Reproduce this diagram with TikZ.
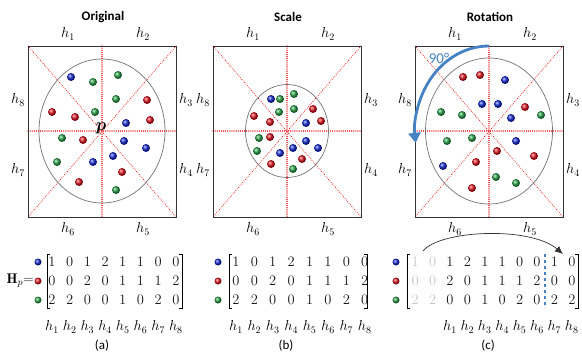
\documentclass[tikz,border=0pt]{standalone}
\usepackage{amsmath,amssymb,bm}
\usepackage{fontspec}
\newfontfamily\titlefont{Carlito}
\usetikzlibrary{arrows.meta,calc}

\definecolor{dotblue}{RGB}{20,40,210}
\definecolor{dotred}{RGB}{225,20,30}
\definecolor{dotgreen}{RGB}{40,160,70}
\definecolor{rotblue}{RGB}{70,130,195}
\definecolor{cutred}{RGB}{240,40,40}

\tikzset{
  frame/.style={draw=black!80,line width=0.9pt},
  cut/.style={draw=cutred,line cap=round,dash pattern=on 0.1pt off 2pt,line width=1.1pt},
  ring/.style={draw=black!55,line width=0.7pt},
  ball/.style={circle,inner sep=0pt,minimum size=8pt,shading=ball},
  bdot/.style={ball,ball color=dotblue},
  rdot/.style={ball,ball color=dotred},
  gdot/.style={ball,ball color=dotgreen},
  sdot/.style={circle,inner sep=0pt,minimum size=7pt,shading=ball},
  hlab/.style={inner sep=0pt,font=\fontsize{14}{16}\selectfont},
  num/.style={inner sep=0pt,font=\fontsize{14.5}{16}\selectfont,text=black!90},
  ttl/.style={inner sep=0pt,font=\titlefont\bfseries\fontsize{13}{15}\selectfont},
  sublab/.style={inner sep=0pt,font=\titlefont\fontsize{13}{15}\selectfont}
}

\begin{document}
\begin{tikzpicture}[x=1pt,y=-1pt]
\useasboundingbox (0,0) rectangle (582,353);

% frames, cut lines and labels of the three panels
\foreach \p/\x/\t in {a/28/Original,b/213/Scale,c/415/Rotation}{
  \draw[cut] (\x,46) -- ++(148,171);
  \draw[cut] (\x+148,46) -- ++(-148,171);
  \draw[cut] (\x+74,46) -- ++(0,171);
  \draw[cut] (\x,131) -- ++(148,0);
  \draw[frame] (\x,46) rectangle ++(148,171);
  \node[ttl] (\p-title) at (\x+75,17) {\t};
  \node[hlab] (\p-h1) at (\x+40,34) {$h_1$};
  \node[hlab] (\p-h2) at (\x+115,34) {$h_2$};
  \node[hlab] (\p-h8) at (\x-10,100) {$h_8$};
  \node[hlab] (\p-h3) at (\x+158,100) {$h_3$};
  \node[hlab] (\p-h7) at (\x-10,170) {$h_7$};
  \node[hlab] (\p-h4) at (\x+158,170) {$h_4$};
  \node[hlab] (\p-h6) at (\x+40,229) {$h_6$};
  \node[hlab] (\p-h5) at (\x+115,229) {$h_5$};
}
\draw[ring] (102,131) ellipse [x radius=63,y radius=72];
\draw[ring] (287,131) ellipse [x radius=41.5,y radius=46.5];
\draw[ring] (489,131) ellipse [x radius=63.5,y radius=73];

% panel (a)
\foreach \x/\y [count=\i] in {71/77,126/123,124/141,146/148,113/156,93/162}
  \node[bdot] (a-b\i) at (\x,\y) {};
\foreach \x/\y [count=\i] in {147/100,52/112,75/117,150/120,83/140,122/172,79/182}
  \node[rdot] (a-r\i) at (\x,\y) {};
\foreach \x/\y [count=\i] in {93/82,118/75,116/99,95/112,62/138,57/162,116/190}
  \node[gdot] (a-g\i) at (\x,\y) {};
\node[inner sep=0pt,font=\fontsize{19}{20}\selectfont] (a-p) at (101,128) {$\bm{p}$};

% panel (b)
\foreach \x/\y [count=\i] in {271/99,306/123,306/141,318/148,293/148,280/153}
  \node[bdot] (b-b\i) at (\x,\y) {};
\foreach \x/\y [count=\i] in {313/109,254/116,270/122,321/121,270/137,302/159,271/164}
  \node[rdot] (b-r\i) at (\x,\y) {};
\foreach \x/\y [count=\i] in {280/99,294/94,279/112,294/109,259/138,257/151,293/169}
  \node[gdot] (b-g\i) at (\x,\y) {};

% panel (c)
\foreach \x/\y [count=\i] in {505/80,482/104,498/104,511/118,516/141,443/166}
  \node[bdot] (c-b\i) at (\x,\y) {};
\foreach \x/\y [count=\i] in {463/77,480/75,525/107,497/151,534/156,476/162,472/188}
  \node[rdot] (c-r\i) at (\x,\y) {};
\foreach \x/\y [count=\i] in {441/112,462/115,541/115,447/141,472/138,496/177,516/183}
  \node[gdot] (c-g\i) at (\x,\y) {};
\draw[rotblue,line width=2.8pt,-{Triangle[length=10pt,width=12pt]}]
  (489,46) arc[start angle=-90,end angle=-188,x radius=74,y radius=85];
\node[inner sep=0pt,text=rotblue,font=\titlefont\fontsize{15}{17}\selectfont] (c-deg) at (439,58) {90\textdegree};

% histogram matrices
\node[inner sep=0pt,anchor=east,font=\fontsize{14}{16}\selectfont] (a-H) at (34,281) {$\mathbf{H}_{p}$=};
\foreach \m/\x in {a/38,b/218,c/396}{
  \node[sdot,ball color=dotblue] (\m-d1) at (\x,262) {};
  \node[sdot,ball color=dotred] (\m-d2) at (\x,281) {};
  \node[sdot,ball color=dotgreen] (\m-d3) at (\x,300) {};
}
\foreach \m/\xo/\dx in {a/52/17.7,b/236/18.4}{
  \foreach \r/\row in {1/{1,0,1,2,1,1,0,0},2/{0,0,2,0,1,1,1,2},3/{2,2,0,0,1,0,2,0}}
    \foreach \v [count=\c] in \row
      \node[num] (\m-\r-\c) at ({\xo+\dx*(\c-1)},{262+19*(\r-1)}) {\v};
  \foreach \c in {1,...,8}
    \node[hlab] (\m-col\c) at ({\xo+\dx*(\c-1)},327) {$h_{\c}$};
}
\foreach \r/\row in {1/{1,0,1,2,1,1,0,0,1,0},2/{0,0,2,0,1,1,1,2,0,0},3/{2,2,0,0,1,0,2,0,2,2}}
  \foreach \v [count=\c] in \row {
    \ifnum\c<3
      \node[num,text=black!22] (c-\r-\c) at ({415.2+17.4*(\c-1)},{262+19*(\r-1)}) {\v};
    \else
      \node[num] (c-\r-\c) at ({415.2+17.4*(\c-1)},{262+19*(\r-1)}) {\v};
    \fi
  }
\foreach \c in {1,...,8}
  \node[hlab] (c-col\c) at ({450+17.4*(\c-1)},327) {$h_{\c}$};

% brackets
\foreach \l/\r in {47/182,229/367,407/578}{
  \draw[line width=1pt] (\l+3,254) -- (\l,254) -- (\l,308) -- (\l+3,308);
  \draw[line width=1pt] (\r-3,254) -- (\r,254) -- (\r,308) -- (\r-3,308);
}
\draw[rotblue,dashed,line width=1.2pt] (545,254) -- (545,308);

% shift arrow
\coordinate (c-from) at (423,251);
\coordinate (c-to) at (563,254);
\draw[black!80,line width=0.7pt,-{Latex[length=8pt,width=7pt]}]
  (c-from) .. controls (440,230) and (530,226) .. (c-to);

\node[sublab] (a-cap) at (102,346) {(a)};
\node[sublab] (b-cap) at (286,346) {(b)};
\node[sublab] (c-cap) at (488,346) {(c)};
\end{tikzpicture}
\end{document}
